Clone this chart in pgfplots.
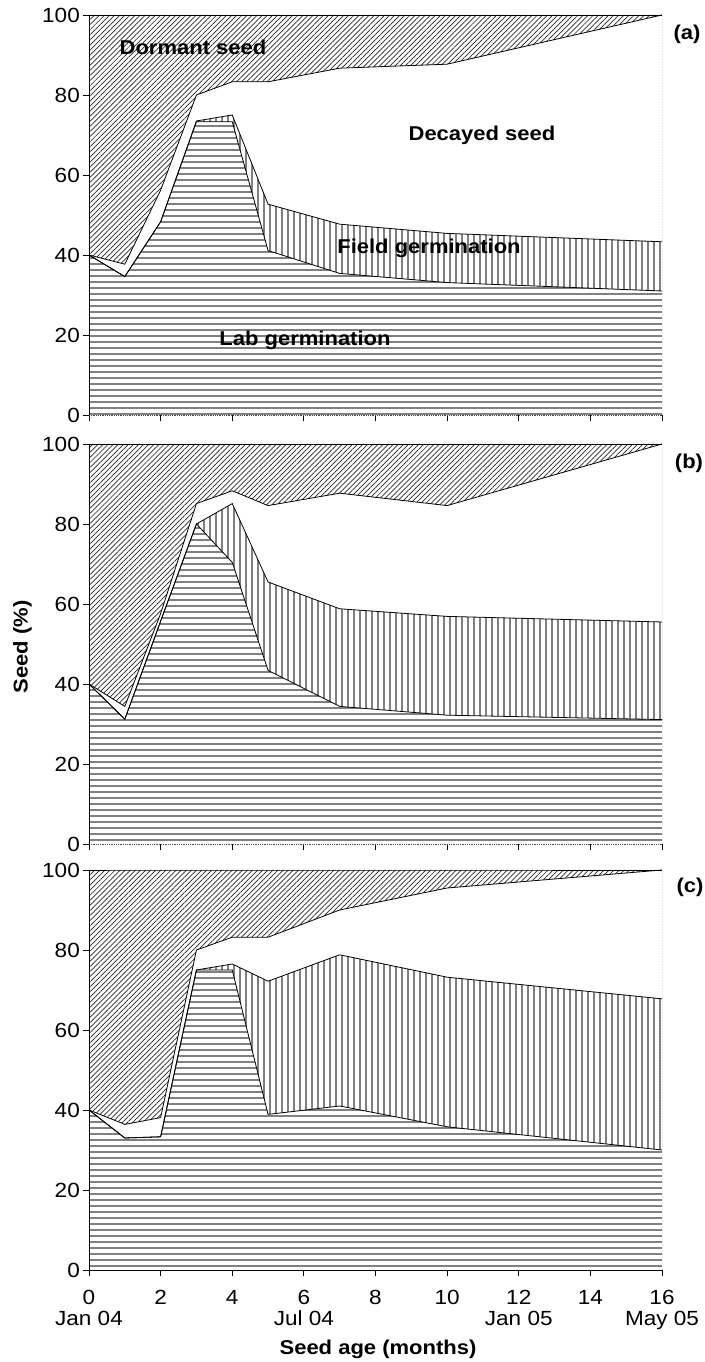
\documentclass[border=0pt]{standalone}
\usepackage{fontspec}
\setmainfont[FakeStretch=1.1]{Liberation Sans}
\usepackage{pgfplots}
\usepackage{pgfplotstable}
\pgfplotsset{compat=1.18}
\usetikzlibrary{patterns.meta}

\pgfplotstableread{
x lab field dec top
0 40 40 40 100
1 34.6 34.6 37.7 100
2 48.3 48.3 56.2 100
3 73.3 73.5 80 100
4 73.3 75 83.3 100
5 41.1 52.7 83.3 100
7 35.4 47.7 86.7 100
10 33.1 45.4 87.7 100
16 31.0 43.3 100 100
}\dataA

\pgfplotstableread{
x lab field dec top
0 40 40 40 100
1 31.2 31.2 34.4 100
2 55.7 55.7 57.6 100
3 80 80 85.1 100
4 70.4 85.1 88.3 100
5 43.4 65.5 84.6 100
7 34.4 58.8 87.7 100
10 32.2 56.9 84.6 100
16 31.1 55.5 100 100
}\dataB

\pgfplotstableread{
x lab field dec top
0 40 40 40 100
1 33.0 33.0 36.4 100
2 33.3 33.3 38.1 100
3 75 75 80 100
4 75 76.5 83.2 100
5 38.9 72.2 83.2 100
7 41.0 78.8 90.0 100
10 35.8 73.2 95.5 100
16 30.0 67.8 100 100
}\dataC

\newcommand\lbl{\fontsize{20}{23}\selectfont\bfseries}
\definecolor{hatchgray}{RGB}{128,128,128}

\pgfplotsset{
  panel/.style={
    scale only axis, width=573pt, height=400pt,
    xmin=0, xmax=16, ymin=0, ymax=100,
    xtick={0,2,...,16}, ytick={0,20,...,100},
    tick pos=left, tick align=outside, major tick length=6pt,
    tick style={black, line width=0.8pt},
    axis lines*=left, axis line style={black, line width=0.8pt},
    ticklabel style={font=\fontsize{20.5}{21}\selectfont},
    yticklabel style={inner sep=3pt},
    /pgf/number format/assume math mode=true,
    axis on top,
  },
  dormant/.style={draw=none, pattern={Lines[angle=45,distance=3.6pt,line width=0.7pt]}, pattern color=black!85},
  decay/.style={draw=none, fill=white},
  fieldg/.style={draw=none, fill=white, postaction={pattern={Lines[angle=90,distance=6pt,line width=2pt]}, pattern color=hatchgray}},
  labg/.style={draw=none, fill=white, postaction={pattern={Lines[angle=0,distance=6pt,line width=2pt]}, pattern color=hatchgray}},
  edge/.style={black, line width=0.8pt, mark=none},
}

\newcommand\panelplots[1]{%
  \addplot[dormant] table[x=x,y=top]{#1} \closedcycle;
  \addplot[decay] table[x=x,y=dec]{#1} \closedcycle;
  \addplot[fieldg] table[x=x,y=field]{#1} \closedcycle;
  \addplot[labg] table[x=x,y=lab]{#1} \closedcycle;
  \addplot[edge] table[x=x,y=top]{#1};
  \addplot[edge] table[x=x,y=dec]{#1};
  \addplot[edge] table[x=x,y=field]{#1};
  \addplot[edge] table[x=x,y=lab]{#1};
  \draw[densely dotted, black!70, line width=0.6pt] (axis cs:16,0) -- (axis cs:16,100);
}

\begin{document}
\begin{tikzpicture}
\useasboundingbox (0,0) rectangle (704pt,1362pt);

\begin{axis}[panel, at={(89pt,947pt)}, anchor=south west, xticklabels={},
  x axis line style={densely dotted, black!70, line width=0.6pt}]
\panelplots{\dataA}
\end{axis}

\begin{axis}[panel, at={(89pt,518pt)}, anchor=south west, xticklabels={},
  x axis line style={densely dotted, black!70, line width=0.6pt}]
\panelplots{\dataB}
\end{axis}

\begin{axis}[panel, at={(89pt,92pt)}, anchor=south west,
  xticklabels={{0\\Jan 04},2,4,{6\\Jul 04},8,10,{12\\Jan 05},14,{16\\May 05}},
  xticklabel style={align=center, anchor=north, inner sep=2pt, yshift=-12pt}]
\panelplots{\dataC}
\end{axis}

\node[font=\lbl] at (193pt,1315pt) {Dormant seed};
\node[font=\lbl] at (482pt,1227pt) {Decayed seed};
\node[font=\lbl] at (429pt,1114pt) {Field germination};
\node[font=\lbl] at (305pt,1022pt) {Lab germination};
\node[font=\lbl] at (687pt,1328pt) {(a)};
\node[font=\lbl] at (689pt,899pt) {(b)};
\node[font=\lbl] at (690pt,475pt) {(c)};
\node[font=\lbl, rotate=90] at (22.5pt,715pt) {Seed (\%)};
\node[font=\lbl] at (378pt,13pt) {Seed age (months)};
\end{tikzpicture}
\end{document}
